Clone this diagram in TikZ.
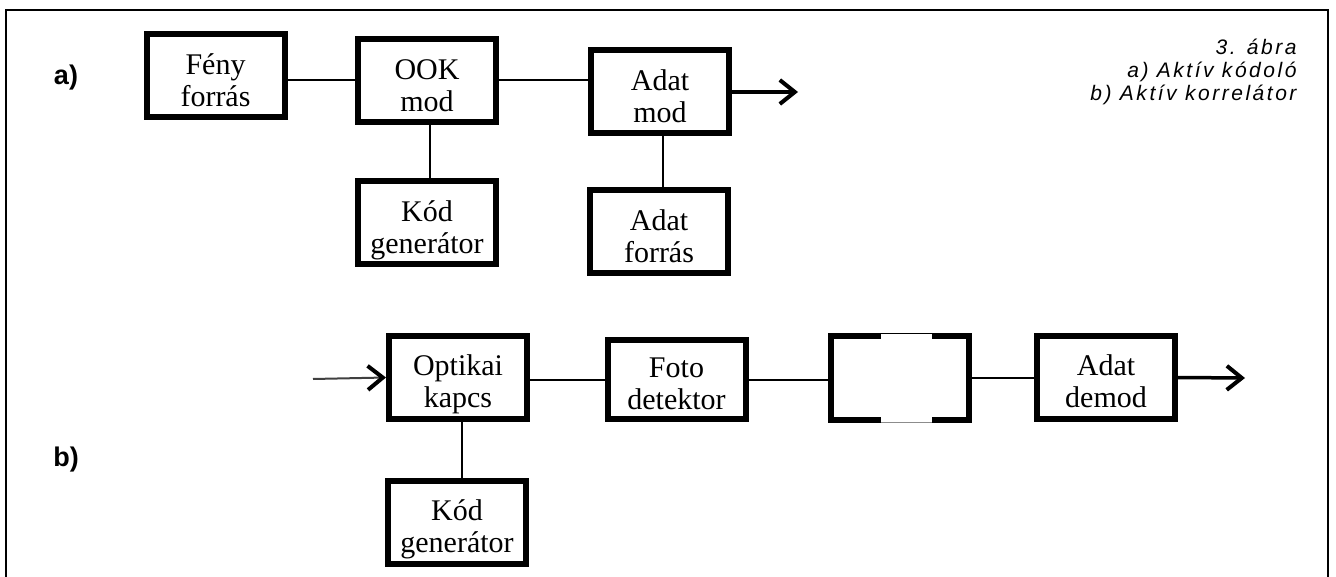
\documentclass[tikz,border=0pt]{standalone}
\usepackage{fontspec}
\setmainfont{Liberation Serif}
\newfontfamily\lblfont{Liberation Sans}
\newfontfamily\capfont[LetterSpace=12]{Liberation Sans}
\usetikzlibrary{arrows.meta,calc}
\newcommand{\twoline}[2]{\raisebox{-14pt}[0pt][0pt]{\begin{tabular}{@{}c@{}}#1\\#2\end{tabular}}}
\begin{document}
\begin{tikzpicture}[x=1pt,y=-1pt,
  blk/.style={draw, line width=6pt, line join=miter, minimum width=138pt, minimum height=83pt,
    inner sep=0pt, align=center, font=\fontsize{30}{32}\selectfont},
  conn/.style={line width=2pt},
  outarrow/.style={line width=3.5pt, -{Straight Barb[length=15pt,width=24pt,line width=4pt]}},
  inarrow/.style={line width=2pt, draw=black!75, -{Straight Barb[length=15pt,width=24pt,line width=4pt,color=black]}},
  lbl/.style={font=\lblfont\bfseries\fontsize{27}{29}\selectfont},
  caption/.style={font=\capfont\itshape\fontsize{21}{23}\selectfont, align=right}]
\useasboundingbox (0,0) rectangle (1336,577);
% frame
\draw[line width=1.5pt] (6,580) -- (6,10) -- (1328,10) -- (1328,580);

% labels
\node[lbl] (la) at (66,78) {a)};
\node[lbl] (lb) at (66,460) {b)};
\node[caption, anchor=north east] (cap) at (1300,36) {3. ábra\\a) Aktív kódoló\\b) Aktív korrelátor};

% row a
\node[blk] (feny) at (215.5,76) {\twoline{Fény}{forrás}};
\node[blk] (ook) at (427,81) {\twoline{OOK}{mod}};
\node[blk] (adatmod) at (660,92) {\twoline{Adat}{mod}};
\node[blk] (koda) at (427,223) {\twoline{Kód}{generátor}};
\node[blk] (adatforras) at (659,232) {\twoline{Adat}{forrás}};
\coordinate (outa) at (798,92);

\draw[conn] ([yshift=-4pt]feny.east) -- ([yshift=-4pt]feny.east -| ook.west);
\draw[conn] ([yshift=1pt]ook.east) -- ([yshift=1pt]ook.east -| adatmod.west);
\draw[conn] ([xshift=3pt]ook.south) -- ([xshift=3pt]ook.south |- koda.north);
\draw[conn] ([xshift=3pt]adatmod.south) -- ([xshift=3pt]adatmod.south |- adatforras.north);
\draw[outarrow] (adatmod.east) -- (outa);

% row b
\node[blk] (optikai) at (458,377.5) {\twoline{Optikai}{kapcs}};
\node[blk, minimum height=79pt] (foto) at (676.5,379.5) {\twoline{Foto}{detektor}};
\node[minimum width=138pt, minimum height=84pt, inner sep=0pt] (empty) at (900,378) {};
\node[blk] (demod) at (1106,377.5) {\twoline{Adat}{demod}};
\node[blk] (kodb) at (457,522) {\twoline{Kód}{generátor}};
\coordinate (inb) at (313,379);
\coordinate (outb) at (1245,378);

\draw[line width=6pt, line join=miter] ($(empty.north west)+(50,0)$) -- (empty.north west) -- (empty.south west) -- ++(50,0);
\draw[line width=6pt, line join=miter] ($(empty.north east)+(-37,0)$) -- (empty.north east) -- (empty.south east) -- ++(-37,0);
\draw[line width=1.2pt] ($(empty.north west)+(50,-2.4)$) -- ($(empty.north east)+(-37,-2.4)$);
\draw[line width=1.2pt, draw=black!45] ($(empty.south west)+(50,2.4)$) -- ($(empty.south east)+(-37,2.4)$);

\draw[inarrow] (inb) -- (optikai.west);
\draw[conn] ([yshift=-2pt]optikai.east) -- ([yshift=-2pt]optikai.east -| foto.west);
\draw[conn] (foto.east) -- (foto.east -| empty.west);
\draw[conn] (empty.east) -- (empty.east -| demod.west);
\draw[outarrow] (demod.east) -- (outb);
\draw[conn] ([xshift=4pt]optikai.south) -- ([xshift=4pt]optikai.south |- kodb.north);
\end{tikzpicture}
\end{document}
